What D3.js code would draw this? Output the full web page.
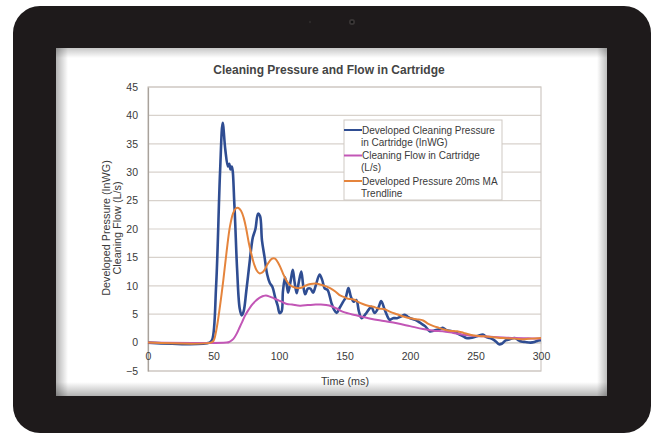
<!DOCTYPE html>
<html><head><meta charset="utf-8">
<script src="https://cdn.jsdelivr.net/npm/d3@7/dist/d3.min.js"></script>
<style>html,body{margin:0;padding:0;background:#fff;}svg{display:block;}</style>
</head><body>
<svg id="c" width="659" height="437"></svg>
<script>
// ---------- data ----------
const chartTitle = "Cleaning Pressure and Flow in Cartridge";
const yTitleLines = ["Developed Pressure (InWG)", "Cleaning Flow (L/s)"];
const xTitle = "Time (ms)";
const xTicks = [0, 50, 100, 150, 200, 250, 300];
const yTicks = [-5, 0, 5, 10, 15, 20, 25, 30, 35, 40, 45];
const seriesNames = ["Developed Cleaning Pressure in Cartridge (InWG)", "Cleaning Flow in Cartridge (L/s)", "Developed Pressure 20ms MA Trendline"];

const pressureT = [0,47,49,52,55,57,59,61,62,63,64,66,68,70,71.5,73,75,77,79,80,82,84,85.5,87,89,91,93,95,97,99,100.5,102,103,104.6,106,107,109,110.5,112,113.5,115,117,118.5,120,122,124,126,128,131,133,135,137,140,142,144,146,149,151,153,155,157,159,161,163,166,168.5,170.5,173,176,178,181,184.5,187,190,193,196,198,200,204,207.6,211.5,215,218,220,223,225,228,232,235.6,240.7,243,246,251,256,258,261,263,266,268,270,273,275,280,283,285,288,292,295,297,300];
const pressureV = [0,0,0.5,10,30,38.7,34,31,31.5,30.5,31,24,13,6,4.8,5.5,9,13,17,18.5,20,22.7,22.3,18,15,12,10.5,9.8,8,6.5,5.2,5.5,9,11.5,10,8.8,11,12.8,10.5,8.7,10.5,12.5,10,8.5,9.5,9.5,8.8,10,12,11,9.5,9.3,7,5.8,5.2,6,7.2,8,9.6,8,7.2,7.5,5.5,4.3,5,5.8,6.3,5.2,6.2,7.3,5.6,4,4.3,4.3,4.6,4.9,4.6,4.3,4,3.5,2.9,2,2.1,2.2,2.4,2.6,2.2,2,1.7,1.1,0.8,0.8,1.1,1.4,1,0.8,0.6,0.1,-0.3,-0.2,0.4,0.5,0.8,0.4,0.2,0.1,0,0.1,0.3,0.4];

const flowT = [0,60,62,64,66,68,70,72,74,76,78,80,82,84,86,88,90,93,96,99,102,106,110,116,122,128,132,136,140,144,149,159,170,180,190,200,210,218,225,233,241,248,256,264,271,280,290,300];
const flowV = [0,0,0.1,0.4,0.9,1.7,2.7,3.7,4.7,5.5,6.2,6.8,7.3,7.7,8,8.2,8.3,8.1,7.8,7.5,7.2,6.8,6.7,6.5,6.6,6.7,6.7,6.6,6.4,6,5.4,4.8,4.2,3.8,3.4,2.9,2.4,2.1,2,1.7,1.4,1.2,1.1,1,0.9,0.8,0.75,0.7];

const trendT = [0,48,50,52,55,57.5,60,62.6,65,67,69,71,73,75,77,79,81,83,85,87,89,91,93,95,97,99,101,103,106,109,112,116,120,124,128,132,136,139,143,146.6,150,153,157,160,164,168,172,176,180,185,190,195,200,205,210,214,218,222,226,230,236,241,246,251,256,262,271,280,287,293,300];
const trendV = [0,0,0.3,2,6.5,11,16,20.5,22.8,23.6,23.7,23.2,22,20,17.5,15.5,13.8,12.7,12.2,12.3,12.8,13.7,14.4,14.8,14.8,14.2,13.3,12.2,10.8,10,9.7,9.6,10,10.3,10.4,10.2,9.9,9.6,9,8.3,8,7.7,7.6,7.2,6.8,6.5,6.3,6,5.9,5.4,5,4.6,4.3,4.1,3.9,3.3,2.9,2.6,2.3,2.1,2,1.7,1.4,1.2,1.1,1,0.8,0.7,0.6,0.7,0.8];

// ---------- drawing ----------
const svg = d3.select("#c");
const FONT = "'Liberation Sans', Arial, sans-serif";
const TXT = "#3a3a3a";

const defs = svg.append("defs");
function grad(id, x1, y1, x2, y2, op) {
  const g = defs.append("linearGradient").attr("id", id)
    .attr("x1", x1).attr("y1", y1).attr("x2", x2).attr("y2", y2);
  g.append("stop").attr("offset", "0%").attr("stop-color", "#000").attr("stop-opacity", op);
  g.append("stop").attr("offset", "100%").attr("stop-color", "#000").attr("stop-opacity", 0);
}
grad("gL", "0", "0", "1", "0", 0.3);
grad("gR", "1", "0", "0", "0", 0.25);
grad("gT", "0", "0", "0", "1", 0.22);
grad("gB", "0", "1", "0", "0", 0.3);

// tablet body
svg.append("rect").attr("x", 13).attr("y", 6).attr("width", 638).attr("height", 427)
  .attr("rx", 27).attr("fill", "#1e1a1b");
svg.append("circle").attr("cx", 352).attr("cy", 22).attr("r", 3).attr("fill", "#3a3636");
svg.append("circle").attr("cx", 352).attr("cy", 22).attr("r", 1.3).attr("fill", "#101010");
svg.append("circle").attr("cx", 310).attr("cy", 22).attr("r", 1.2).attr("fill", "#2e2a2a");

// screen
const sx = 56, sy = 48, sw = 551, sh = 348;
svg.append("rect").attr("x", sx).attr("y", sy).attr("width", sw).attr("height", sh).attr("fill", "#fff");
svg.append("rect").attr("x", sx).attr("y", sy).attr("width", 12).attr("height", sh).attr("fill", "url(#gL)");
svg.append("rect").attr("x", sx + sw - 10).attr("y", sy).attr("width", 10).attr("height", sh).attr("fill", "url(#gR)");
svg.append("rect").attr("x", sx).attr("y", sy).attr("width", sw).attr("height", 10).attr("fill", "url(#gT)");
svg.append("rect").attr("x", sx).attr("y", sy + sh - 14).attr("width", sw).attr("height", 14).attr("fill", "url(#gB)");

// scales
const x = d3.scaleLinear().domain([0, 300]).range([148, 541]);
const y = d3.scaleLinear().domain([-5, 45]).range([371, 87]);

// gridlines
svg.append("g").selectAll("line").data(yTicks).join("line")
  .attr("x1", x(0)).attr("x2", x(300))
  .attr("y1", d => y(d)).attr("y2", d => y(d))
  .attr("stroke", "#d8d2cc").attr("stroke-width", 1.2);
// plot frame
svg.append("rect").attr("x", x(0)).attr("y", y(45)).attr("width", x(300) - x(0)).attr("height", y(-5) - y(45))
  .attr("fill", "none").attr("stroke", "#cfc9c3").attr("stroke-width", 1.2);

// y axis
const yAxis = d3.axisLeft(y).tickValues(yTicks).tickSize(0).tickPadding(10);
const gy = svg.append("g").attr("transform", `translate(${x(0)},0)`).call(yAxis);
gy.select(".domain").attr("stroke", "#a8a29c").attr("stroke-width", 1.2);
gy.selectAll("text").attr("font-family", FONT).attr("font-size", 10.5).attr("fill", TXT);

// x axis at y=0
const xAxis = d3.axisBottom(x).tickValues(xTicks).tickSize(0).tickPadding(10);
const gx = svg.append("g").attr("transform", `translate(0,${y(0)})`).call(xAxis);
gx.select(".domain").attr("stroke", "#cfc9c3");
gx.selectAll("text").attr("font-family", FONT).attr("font-size", 10.5).attr("fill", TXT);

// series
const curve = d3.curveCatmullRom.alpha(0.5);
function series(ts, vs, color, w) {
  const pts = ts.map((t, i) => [t, vs[i]]);
  svg.append("path").datum(pts)
    .attr("d", d3.line().x(d => x(d[0])).y(d => y(d[1])).curve(curve))
    .attr("fill", "none").attr("stroke", color).attr("stroke-width", w)
    .attr("stroke-linejoin", "round");
}
const colors = ["#2f4d92", "#c256b6", "#e5843c"];
series(pressureT, pressureV, colors[0], 2.6);
series(flowT, flowV, colors[1], 2);
series(trendT, trendV, colors[2], 2);

// title
svg.append("text").attr("x", 329).attr("y", 74).attr("text-anchor", "middle")
  .attr("font-family", FONT).attr("font-size", 12).attr("font-weight", "bold").attr("fill", "#444")
  .text(chartTitle);

// y title
const yt = svg.append("text").attr("transform", "translate(110,228) rotate(-90)")
  .attr("text-anchor", "middle").attr("font-family", FONT).attr("font-size", 10.8).attr("fill", TXT);
yTitleLines.forEach((l, i) => yt.append("tspan").attr("x", 0).attr("dy", i === 0 ? 0 : 10.5).text(l));

// x title
svg.append("text").attr("x", 345).attr("y", 385).attr("text-anchor", "middle")
  .attr("font-family", FONT).attr("font-size", 10.8).attr("fill", TXT).text(xTitle);

// legend
const legendLines = [["Developed Cleaning Pressure", "in Cartridge (InWG)"], ["Cleaning Flow in Cartridge", "(L/s)"], ["Developed Pressure 20ms MA", "Trendline"]];
const lg = svg.append("g");
lg.append("rect").attr("x", 344).attr("y", 120).attr("width", 158).attr("height", 80)
  .attr("fill", "#fff").attr("stroke", "#cfc9c3").attr("stroke-width", 1);
legendLines.forEach((ls, i) => {
  const by = 130 + i * 25.5;
  lg.append("line").attr("x1", 344).attr("x2", 362).attr("y1", by).attr("y2", by)
    .attr("stroke", colors[i]).attr("stroke-width", 2);
  const t = lg.append("text").attr("x", 362).attr("y", by + 3.5)
    .attr("font-family", FONT).attr("font-size", 10).attr("fill", TXT);
  ls.forEach((l, j) => t.append("tspan").attr("x", j === 0 ? 362 : 361).attr("dy", j === 0 ? 0 : 12).text(l));
});
</script>
</body></html>
